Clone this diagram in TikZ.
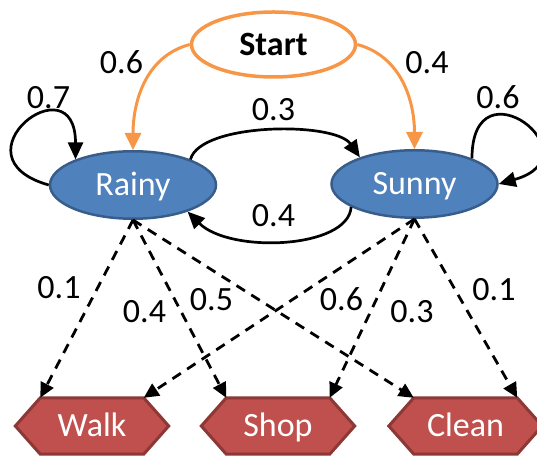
\documentclass[tikz,border=0pt]{standalone}
\usepackage{fontspec}
\setmainfont{Carlito}
\usetikzlibrary{arrows.meta,shapes.geometric,calc,backgrounds}

\definecolor{stateblue}{HTML}{4F81BD}
\definecolor{stateedge}{HTML}{385D8A}
\definecolor{obsred}{HTML}{C0504D}
\definecolor{obsedge}{HTML}{8C3836}
\definecolor{startorange}{HTML}{F79646}

\tikzset{
  every node/.style={font=\fontsize{34}{40}\selectfont, text height=22pt, text depth=0pt, inner sep=0pt},
  state/.style={ellipse, fill=stateblue, draw=stateedge, line width=2.5pt, text=white,
                minimum width=166pt, minimum height=67.5pt},
  startnode/.style={ellipse, fill=white, draw=startorange, line width=3.5pt,
                minimum width=164pt, minimum height=65pt, font=\fontsize{34}{40}\selectfont\bfseries},
  obs/.style={rectangle, text=white, minimum width=103pt, minimum height=56pt},
  hexfill/.style={fill=obsred, draw=obsedge, line width=3pt, line join=miter},
  trans/.style={line width=2.7pt, -{Triangle[length=17pt,width=15pt]}},
  init/.style={line width=3pt, draw=startorange, -{Triangle[length=17pt,width=16pt,fill=startorange]}},
  emit/.style={line width=2.8pt, dash pattern=on 10pt off 7.5pt, -{Triangle[length=15pt,width=14pt]}},
  prob/.style={}
}

\begin{document}
\begin{tikzpicture}[x=1pt,y=1pt]
\useasboundingbox (0,0) rectangle (537,457);

% hidden states and the initial node
\node[startnode] (start) at (273.5,412.5) {Start};
\node[state] (rainy) at (133,272) {Rainy};
\node[state] (sunny) at (414.5,273) {Sunny};

% observations (hexagon outlines are drawn behind the labels)
\node[obs] (walk)  at (92,31)    {Walk};
\node[obs] (shop)  at (278,31)   {Shop};
\node[obs] (clean) at (465.5,31) {Clean};
\begin{scope}[on background layer]
  \foreach \o in {walk,shop,clean}
    \filldraw[hexfill] (\o.north west) -- (\o.north east) -- ($(\o.east)+(25,0)$)
      -- (\o.south east) -- (\o.south west) -- ($(\o.west)+(-25,0)$) -- cycle;
\end{scope}

% initial probabilities
\draw[init] (start.west) to[out=195,in=90] (rainy.north);
\draw[init] (start.east) to[out=-15,in=90] (sunny.north);

% transitions
\draw[trans] (rainy.180) .. controls +(-99,28) and +(0,100) .. (rainy.156);
\draw[trans] (sunny.24) .. controls +(0,100) and +(99,28) .. (sunny.0);
\draw[trans] (rainy.24) .. controls +(10,37) and +(-25,36) .. (sunny.154);
\draw[trans] (sunny.200) .. controls +(-3,-42) and +(42,-42) .. (rainy.334);

% emissions
\draw[emit] (rainy.south) -- (walk.north west);
\draw[emit] (rainy.south) -- (shop.north west);
\draw[emit] (rainy.south) -- (clean.north west);
\draw[emit] (sunny.south) -- (walk.north east);
\draw[emit] (sunny.south) -- (shop.north east);
\draw[emit] (sunny.south) -- (clean.north east);

% probabilities
\node[prob] (pRs)  at (121.5,394.5) {0.6};
\node[prob] (pSs)  at (427,394.5)   {0.4};
\node[prob] (pRR)  at (48.5,359.5)  {0.7};
\node[prob] (pSS)  at (498,359)     {0.6};
\node[prob] (pRS)  at (273.5,347)   {0.3};
\node[prob] (pSR)  at (273.5,241)   {0.4};
\node[prob] (eRW)  at (59,169)      {0.1};
\node[prob] (eRSh) at (144.5,145.5) {0.4};
\node[prob] (eRC)  at (211.5,157.5) {0.5};
\node[prob] (eSW)  at (341.5,157.5) {0.6};
\node[prob] (eSSh) at (412,145.5)   {0.3};
\node[prob] (eSC)  at (494,167.5)   {0.1};
\end{tikzpicture}
\end{document}
